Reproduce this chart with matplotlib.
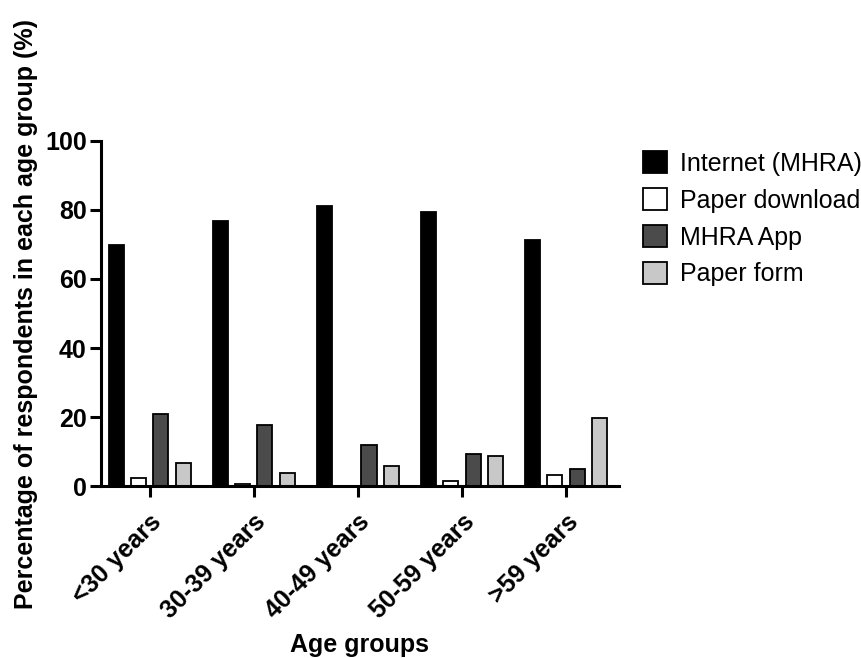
import numpy as np
import matplotlib.pyplot as plt

plt.rcParams['font.family'] = ['Liberation Sans', 'DejaVu Sans']

# Data
age_groups = ['<30 years', '30-39 years', '40-49 years', '50-59 years', '>59 years']
internet = [69.8, 76.9, 81.0, 79.3, 71.3]
paper_download = [2.3, 0.7, 0.0, 1.5, 3.3]
mhra_app = [20.8, 17.6, 11.9, 9.4, 4.9]
paper_form = [6.8, 3.7, 6.0, 8.8, 19.8]

series = [
    ('Internet (MHRA)', internet, '#000000'),
    ('Paper download', paper_download, '#ffffff'),
    ('MHRA App', mhra_app, '#4b4b4b'),
    ('Paper form', paper_form, '#c8c8c8'),
]

fig = plt.figure(figsize=(8.61, 6.58), dpi=100)
ax = fig.add_axes([0.117, 0.261, 0.602, 0.525])

x = np.arange(len(age_groups))
width = 0.145
step = 0.215
for i, (label, vals, color) in enumerate(series):
    ax.bar(x + (i - 1.5) * step, vals, width, color=color, edgecolor='black',
           linewidth=1.3, label=label)

ax.set_xlim(-0.47, 4.51)
ax.set_ylim(0, 100)
ax.set_yticks([0, 20, 40, 60, 80, 100])
ax.set_xticks(x)
ax.set_xticklabels(age_groups, rotation=45, ha='right', rotation_mode='anchor',
                   fontsize=18, fontweight='bold')
for lab in ax.get_yticklabels():
    lab.set_fontsize(18)
    lab.set_fontweight('bold')

ax.spines['top'].set_visible(False)
ax.spines['right'].set_visible(False)
ax.spines['left'].set_linewidth(2.2)
ax.spines['bottom'].set_linewidth(2.2)
ax.tick_params(axis='both', width=2.2, length=8)
ax.tick_params(axis='y', pad=2)
ax.tick_params(axis='x', pad=9)

ax.set_ylabel('Percentage of respondents in each age group (%)', fontsize=18,
              fontweight='bold', labelpad=5)
ax.set_xlabel('Age groups', fontsize=18, fontweight='bold', labelpad=7)

ax.legend(loc='upper left', bbox_to_anchor=(1.012, 1.02), frameon=False,
          fontsize=18, handlelength=0.95, handleheight=0.95, handletextpad=0.55,
          labelspacing=0.5, borderaxespad=0.3)

fig.savefig('out.png', dpi=100)
